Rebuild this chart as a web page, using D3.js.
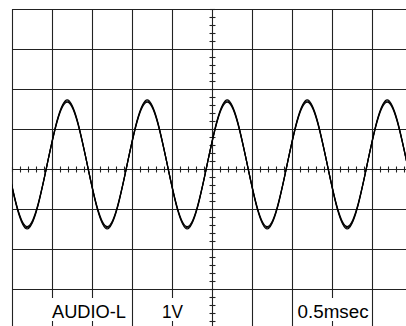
<!DOCTYPE html>
<html>
<head>
<meta charset="utf-8">
<script src="https://cdn.jsdelivr.net/npm/d3@7"></script>
<style>
  html, body { margin: 0; padding: 0; background: #fff; }
  svg { display: block; }
</style>
</head>
<body>
<div id="scope"></div>
<script>
// screen divisions: 10 x 0.5 ms horizontally, 8 x 1 V vertically
var timeDivs = [-2.5, -2, -1.5, -1, -0.5, 0, 0.5, 1, 1.5, 2, 2.5];
var voltDivs = [4, 3, 2, 1, 0, -1, -2, -3, -4];

// trace: zero crossings, peaks, troughs (ms / V)
var timesMs = [-2.56, -2.31, -2.06, -1.81, -1.56, -1.31, -1.06, -0.81, -0.56, -0.31, -0.06,
               0.19, 0.44, 0.69, 0.94, 1.19, 1.44, 1.69, 1.94, 2.19, 2.44];
// several sweeps overlap with slightly different amplitude -> thick tips
var sweepOuter = [0.12, -1.50, 0.12, 1.73, 0.12, -1.50, 0.12, 1.73, 0.12, -1.50, 0.12,
                  1.73, 0.12, -1.50, 0.12, 1.73, 0.12, -1.50, 0.12, 1.73, 0.12];
var sweepMid   = [0.12, -1.47, 0.12, 1.70, 0.12, -1.47, 0.12, 1.70, 0.12, -1.47, 0.12,
                  1.70, 0.12, -1.47, 0.12, 1.70, 0.12, -1.47, 0.12, 1.70, 0.12];
var sweepInner = [0.12, -1.44, 0.12, 1.67, 0.12, -1.44, 0.12, 1.67, 0.12, -1.44, 0.12,
                  1.67, 0.12, -1.44, 0.12, 1.67, 0.12, -1.44, 0.12, 1.67, 0.12];

var labels = ["AUDIO-L", "1V", "0.5msec"];
var labelX = [-2, -0.625, 1.07];   // left edge, in ms
var labelW = [74, 21, 71];          // measured text widths, px

var width = 406, height = 326;

var x = d3.scaleLinear().domain([-2.5, 2.5]).range([12, 412]);
var y = d3.scaleLinear().domain([4, -4]).range([9, 329]);

var svg = d3.select("#scope").append("svg")
    .attr("width", width)
    .attr("height", height);

svg.append("defs").append("clipPath")
    .attr("id", "screen")
  .append("rect")
    .attr("x", x(-2.5)).attr("y", y(4))
    .attr("width", x(2.5) - x(-2.5))
    .attr("height", y(-4) - y(4));

var grid = svg.append("g")
    .attr("stroke", "#222")
    .attr("stroke-width", 1.1);

grid.selectAll(".vline")
    .data(timeDivs)
  .enter().append("line")
    .attr("x1", function(d) { return Math.round(x(d)) + 0.5; })
    .attr("x2", function(d) { return Math.round(x(d)) + 0.5; })
    .attr("y1", y(4))
    .attr("y2", y(-4));

grid.selectAll(".hline")
    .data(voltDivs)
  .enter().append("line")
    .attr("y1", function(d) { return Math.round(y(d)) + 0.5; })
    .attr("y2", function(d) { return Math.round(y(d)) + 0.5; })
    .attr("x1", x(-2.5))
    .attr("x2", x(2.5));

// minor ticks on the centre cross
var minorT = d3.range(-25, 26).map(function(i) { return i / 10; });
var minorV = d3.range(-20, 21).map(function(i) { return i / 5; });

grid.selectAll(".tt")
    .data(minorT)
  .enter().append("line")
    .attr("x1", function(d) { return Math.round(x(d)) + 0.5; })
    .attr("x2", function(d) { return Math.round(x(d)) + 0.5; })
    .attr("y1", y(0) - 2.5)
    .attr("y2", y(0) + 3.5);

grid.selectAll(".vt")
    .data(minorV)
  .enter().append("line")
    .attr("y1", function(d) { return Math.round(y(d)) + 0.5; })
    .attr("y2", function(d) { return Math.round(y(d)) + 0.5; })
    .attr("x1", x(0) - 2.5)
    .attr("x2", x(0) + 3.5);

var line = d3.line()
    .x(function(d) { return x(d[0]); })
    .y(function(d) { return y(d[1]); })
    .curve(d3.curveNatural);

var trace = svg.append("g").attr("clip-path", "url(#screen)");

[sweepOuter, sweepMid, sweepInner].forEach(function(sweep) {
  trace.append("path")
      .datum(d3.zip(timesMs, sweep))
      .attr("fill", "none")
      .attr("stroke", "#000")
      .attr("stroke-width", 1.2)
      .attr("d", line);
});

// readout labels with white boxes knocking out the grid
var readout = svg.append("g");
labels.forEach(function(t, i) {
  var g = readout.append("g");
  var x0 = x(labelX[i]);
  g.append("rect")
      .attr("fill", "#fff")
      .attr("x", x0 - 1).attr("y", 298)
      .attr("width", labelW[i] + 2).attr("height", 23);
  g.append("text")
      .attr("x", x0)
      .attr("y", 318)
      .attr("font-family", "'Liberation Sans', Arial, Helvetica, sans-serif")
      .attr("font-size", 18)
      .attr("textLength", labelW[i])
      .attr("lengthAdjust", "spacingAndGlyphs")
      .attr("fill", "#000")
      .text(t);
});
</script>
</body>
</html>
